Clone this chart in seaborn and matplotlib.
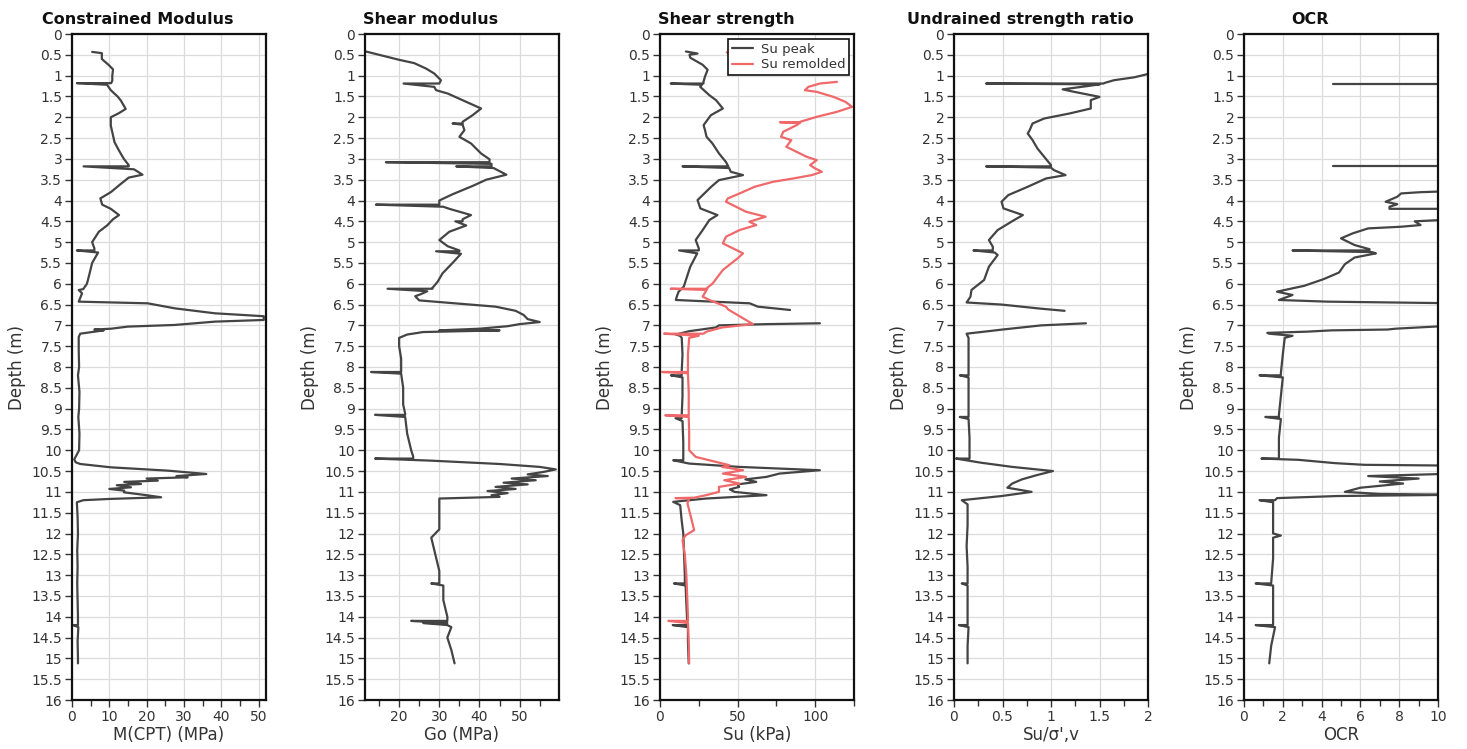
import numpy as np
import pandas as pd
import seaborn as sns
import matplotlib.pyplot as plt
from matplotlib.ticker import MultipleLocator, FixedLocator, FuncFormatter

# --- Data (depth in m) ---
# Constrained modulus M(CPT), MPa
m_depth = [0.43, 0.46, 0.6, 0.75, 0.85, 1.0, 1.12, 1.18, 1.18, 1.22, 1.35, 1.5, 1.6, 1.8, 1.9,
           2.0, 2.2, 2.4, 2.6, 2.8, 3.0, 3.15, 3.18, 3.18, 3.25, 3.38, 3.45, 3.6, 3.8, 3.95,
           4.1, 4.2, 4.35, 4.45, 4.6, 4.75, 5.0, 5.15, 5.2, 5.2, 5.25, 5.5, 5.83, 6.0, 6.13,
           6.15, 6.23, 6.43, 6.47, 6.59, 6.71, 6.78, 6.87, 6.91, 6.99, 7.03, 7.08, 7.1, 7.12,
           7.2, 7.28, 7.6, 8.0, 8.2, 8.6, 9.0, 9.2, 9.6, 10.0, 10.22, 10.29, 10.33, 10.41,
           10.49, 10.57, 10.62, 10.65, 10.68, 10.73, 10.76, 10.81, 10.84, 10.89, 10.93, 10.97,
           11.01, 11.08, 11.13, 11.17, 11.2, 11.25, 11.6, 12.0, 12.4, 12.8, 13.2, 13.6, 14.0,
           14.2, 14.2, 14.25, 14.6, 15.0, 15.12]
m_val = [5.4, 8.0, 8.0, 9.9, 11.0, 10.8, 10.8, 10.5, 1.3, 9.4, 10.4, 12.2, 13.1, 14.4, 12.6,
         10.4, 10.4, 10.9, 11.4, 12.6, 13.9, 15.2, 15.2, 3.1, 16.6, 18.9, 15.2, 13.1, 10.4, 7.6,
         8.1, 10.4, 12.6, 11.0, 9.4, 7.2, 5.4, 6.0, 6.0, 1.3, 7.0, 5.4, 4.5, 4.0, 3.0,
         1.8, 2.7, 1.8, 20.3, 27.5, 38.3, 51.4, 51.4, 38.3, 27.5, 14.9, 10.5, 6.0, 8.5,
         2.2, 1.8, 1.8, 1.9, 1.6, 2.0, 1.9, 1.7, 2.0, 1.9, 0.6, 1.0, 2.2, 10.4,
         25.7, 36.0, 28.0, 31.0, 20.0, 23.0, 14.0, 18.5, 12.0, 15.8, 10.0, 14.0,
         13.9, 20.0, 23.9, 10.0, 3.0, 1.3, 1.5, 1.6, 1.4, 1.5, 1.4, 1.5, 1.6,
         1.6, 0.3, 1.7, 1.5, 1.6, 1.6]

# Shear modulus Go, MPa
g_depth = [0.42, 0.5, 0.62, 0.7, 0.83, 0.95, 1.11, 1.19, 1.19, 1.27, 1.35, 1.43, 1.59, 1.79,
           1.95, 2.11, 2.15, 2.15, 2.18, 2.31, 2.47, 2.63, 2.87, 3.01, 3.08, 3.08, 3.12, 3.18,
           3.18, 3.22, 3.38, 3.5, 3.65, 3.85, 4.0, 4.1, 4.1, 4.15, 4.2, 4.35, 4.45, 4.5, 4.5,
           4.6, 4.75, 4.95, 5.1, 5.2, 5.22, 5.22, 5.28, 5.5, 5.75, 5.95, 6.1, 6.12, 6.12, 6.18,
           6.25, 6.3, 6.4, 6.48, 6.55, 6.65, 6.75, 6.85, 6.92, 6.97, 7.02, 7.08, 7.12, 7.12,
           7.16, 7.22, 7.3, 7.5, 7.8, 8.05, 8.12, 8.12, 8.16, 8.5, 8.9, 9.12, 9.15, 9.15, 9.2,
           9.6, 10.0, 10.15, 10.2, 10.2, 10.25, 10.33, 10.4, 10.46, 10.52, 10.58, 10.62, 10.68,
           10.72, 10.78, 10.82, 10.88, 10.93, 10.98, 11.03, 11.08, 11.12, 11.16, 11.22, 11.5,
           11.9, 12.1, 12.5, 12.9, 13.2, 13.2, 13.25, 13.6, 14.0, 14.1, 14.1, 14.15, 14.15,
           14.2, 14.25, 14.5, 14.8, 15.12]
g_val = [11.7, 15.0, 20.0, 23.75, 26.7, 28.75, 30.4, 30.0, 21.1, 28.75, 29.2, 32.1, 35.8, 40.4,
         38.3, 35.8, 35.8, 33.3, 35.8, 36.25, 35.0, 37.9, 40.4, 42.5, 42.5, 16.7, 43.0, 43.0,
         34.2, 43.5, 46.7, 41.7, 38.3, 33.3, 30.0, 30.0, 14.2, 31.0, 32.5, 37.9, 35.8, 35.8, 34.0,
         36.7, 32.5, 30.0, 32.1, 35.0, 35.0, 29.2, 35.4, 33.3, 30.8, 29.6, 28.3, 28.3, 17.1, 27.0,
         25.4, 24.0, 25.0, 35.0, 44.0, 49.0, 51.0, 52.0, 55.0, 50.0, 47.0, 40.0, 30.0, 45.0,
         26.0, 22.0, 20.0, 20.0, 20.5, 20.5, 20.5, 13.0, 20.5, 21.0, 21.0, 21.5, 21.5, 14.0, 21.5,
         22.0, 23.0, 23.5, 23.5, 14.0, 28.0, 45.0, 55.0, 59.0, 56.0, 52.0, 57.0, 48.0,
         54.0, 46.0, 52.0, 44.0, 49.0, 42.0, 47.0, 43.0, 45.0, 30.0, 30.0, 30.0,
         30.0, 28.0, 29.0, 30.0, 30.0, 28.0, 31.0, 31.0, 32.0, 32.0, 23.0, 32.0, 26.0,
         32.0, 33.0, 32.0, 33.0, 33.8]

# Shear strength, Su peak (kPa)
sp_depth = [0.42, 0.47, 0.5, 0.57, 0.74, 0.86, 1.02, 1.15, 1.19, 1.19, 1.22, 1.27, 1.47, 1.59,
            1.79, 1.95, 2.19, 2.31, 2.47, 2.63, 2.87, 3.07, 3.18, 3.18, 3.22, 3.31, 3.39, 3.51,
            3.67, 3.87, 3.99, 4.19, 4.35, 4.47, 4.71, 4.95, 5.15, 5.2, 5.2, 5.27, 5.59, 5.83,
            6.07, 6.19, 6.3, 6.39, 6.47, 6.55, 6.63, None, 6.95, 6.97, 7.0, 7.05, 7.14, 7.22,
            7.25, 7.3, 7.7, 8.1, 8.2, 8.2, 8.25, 8.7, 9.15, 9.23, 9.23, 9.3, 9.8, 10.15, 10.24,
            10.24, 10.32, 10.4, 10.48, 10.56, 10.64, 10.7, 10.76, 10.82, 10.88, 10.94, 11.0,
            11.08, 11.16, 11.24, 11.32, 11.7, 12.0, 12.5, 13.0, 13.2, 13.2, 13.25, 13.7, 14.1,
            14.2, 14.2, 14.25, 14.6, 15.12]
sp_val = [16.7, 24.2, 19.0, 19.5, 27.5, 30.7, 29.0, 28.0, 28.0, 6.9, 27.0, 25.9, 31.8, 36.1,
          40.5, 32.8, 28.1, 29.0, 30.0, 33.8, 38.0, 42.4, 44.0, 14.5, 44.5, 45.6, 53.5, 38.0,
          33.0, 27.5, 24.2, 26.0, 37.0, 31.8, 27.5, 23.0, 25.0, 25.0, 12.3, 24.0, 19.5, 17.4,
          15.3, 12.0, 10.9, 10.2, 57.8, 63.0, 83.8, None, 103.0, 68.6, 38.0, 36.0, 18.8, 10.2,
          12.9, 14.0, 14.5, 14.0, 14.0, 7.0, 14.5, 14.5, 14.0, 14.0, 10.0, 14.5, 15.0, 15.0, 15.0,
          8.5, 18.8, 51.0, 103.0, 77.0, 68.6, 55.0, 62.0, 50.0, 51.0, 45.0, 48.0,
          68.6, 29.6, 8.5, 13.0, 14.0, 15.0, 15.5, 16.0, 16.0, 9.0, 16.5, 17.0, 17.5,
          17.5, 8.2, 18.0, 18.0, 18.5]

# Su remolded (kPa)
sr_depth = [0.44, 0.48, None, 1.15, 1.19, 1.27, 1.35, 1.39, 1.51, 1.63, 1.75, 1.87, 1.99, 2.11,
            2.12, 2.12, 2.14, 2.19, 2.35, 2.47, 2.55, 2.71, 2.83, 2.95, 3.03, 3.15, 3.23, 3.31,
            3.39, 3.47, 3.55, 3.67, 3.83, 3.95, 4.03, 4.15, 4.27, 4.39, 4.51, 4.59, 4.71, 4.87,
            5.03, 5.15, 5.27, 5.39, 5.51, 5.67, 5.83, 5.99, 6.09, 6.12, 6.12, 6.15, 6.31, 6.39,
            6.55, 6.62, 6.97, 7.05, 7.15, 7.2, 7.2, 7.25, 7.3, 7.7, 8.1, 8.12, 8.12, 8.15, 8.6,
            9.1, 9.16, 9.16, 9.2, 9.6, 10.0, 10.16, 10.28, 10.36, 10.4, 10.48, 10.56, 10.64,
            10.72, 10.8, 10.88, 11.0, 11.08, 11.14, 11.15, 11.16, 11.28, 11.6, 11.92, 12.04,
            12.16, 12.5, 13.0, 13.5, 14.0, 14.1, 14.1, 14.15, 14.6, 15.12]
sr_val = [43.0, 45.0, None, 114.0, 103.0, 95.6, 93.4, 101.0, 111.7, 119.5, 123.8, 114.0, 101.0,
          90.3, 90.3, 77.3, 90.0, 88.0, 79.4, 78.0, 84.6, 81.4, 88.0, 94.5, 101.0, 96.7, 100.0,
          104.3, 97.8, 86.0, 72.9, 61.0, 51.3, 43.7, 42.5, 49.0, 55.4, 68.0, 57.6, 62.0, 51.3,
          42.5, 40.5, 47.0, 53.5, 50.0, 45.9, 40.5, 37.2, 34.0, 30.7, 30.5, 6.9, 30.0, 27.5,
          31.8, 42.5, 44.0, 59.9, 40.0, 30.0, 28.0, 2.6, 25.0, 18.8, 18.0, 18.0, 18.0, 1.3,
          18.0, 18.5, 18.5, 18.5, 3.4, 18.5, 18.8, 18.8, 23.0, 36.1, 44.8, 40.0, 53.5, 40.5,
          55.4, 41.4, 51.3, 38.0, 38.0, 29.6, 22.0, 10.0, 18.8, 17.7, 19.9, 22.0, 16.6,
          14.5, 16.0, 17.0, 17.5, 18.0, 18.0, 5.4, 18.0, 18.5, 18.8]

# Undrained strength ratio Su/sigma'v
r_depth = [0.96, 1.04, 1.11, 1.17, 1.19, 1.19, 1.21, 1.25, 1.33, 1.39, 1.51, 1.59, 1.79, 1.91,
           2.03, 2.15, 2.31, 2.39, 2.55, 2.75, 2.95, 3.15, 3.18, 3.18, 3.21, 3.27, 3.39, 3.47,
           3.67, 3.87, 4.03, 4.19, 4.35, 4.47, 4.71, 4.95, 5.11, 5.2, 5.2, 5.25, 5.31, 5.59,
           5.91, 6.15, 6.31, 6.45, 6.5, 6.6, 6.65, None, 6.95, 7.0, 7.1, 7.2, 7.3, 7.8, 8.15,
           8.2, 8.2, 8.25, 8.7, 9.15, 9.2, 9.2, 9.25, 9.7, 10.15, 10.2, 10.2, 10.3, 10.4, 10.5,
           10.6, 10.7, 10.8, 10.9, 11.0, 11.1, 11.2, 11.3, 11.8, 12.3, 12.8, 13.2, 13.2, 13.25,
           13.7, 14.15, 14.2, 14.2, 14.25, 14.7, 15.12]
r_val = [2.0, 1.86, 1.65, 1.56, 1.54, 0.33, 1.5, 1.38, 1.12, 1.24, 1.5, 1.41, 1.41, 1.19,
         0.93, 0.81, 0.78, 0.76, 0.81, 0.86, 0.93, 1.0, 1.0, 0.33, 1.0, 1.03, 1.15, 0.95,
         0.76, 0.56, 0.49, 0.51, 0.71, 0.62, 0.45, 0.36, 0.4, 0.4, 0.2, 0.42, 0.45, 0.36,
         0.31, 0.18, 0.17, 0.13, 0.49, 0.9, 1.14, None, 1.36, 0.9, 0.5, 0.13, 0.15, 0.15, 0.15,
         0.15, 0.06, 0.15, 0.15, 0.15, 0.15, 0.06, 0.15, 0.16, 0.16, 0.16, 0.02, 0.28, 0.6, 1.02,
         0.85, 0.7, 0.6, 0.55, 0.8, 0.49, 0.08, 0.14, 0.14, 0.13, 0.14, 0.14, 0.08, 0.14,
         0.14, 0.14, 0.14, 0.05, 0.15, 0.14, 0.14]

# Over-consolidation ratio
o_depth = [1.19, 1.19, None, 3.18, 3.18, None, 3.77, 3.8, 3.83, 3.91, 4.03, 4.09, 4.15, 4.2,
           4.2, None, 4.45, 4.5, 4.59, 4.63, 4.67, 4.79, 4.91, 5.07, 5.17, 5.2, 5.2, 5.24, 5.27,
           5.37, 5.53, 5.73, 5.89, 6.05, 6.19, 6.27, 6.39, 6.43, 6.47, None, 7.0, 7.08, 7.1,
           7.12, 7.15, 7.18, 7.2, 7.2, 7.25, 7.3, 7.7, 8.15, 8.2, 8.2, 8.25, 8.7, 9.15, 9.2,
           9.2, 9.25, 9.7, 10.15, 10.2, 10.2, 10.23, 10.31, 10.35, 10.37, None, 10.56, 10.62,
           10.68, 10.75, 10.8, 10.9, 11.0, 11.05, 11.07, 11.1, 11.15, 11.2, 11.2, 11.25, 11.6,
           12.0, 12.05, 12.1, 12.6, 13.2, 13.2, 13.25, 13.7, 14.15, 14.2, 14.2, 14.25, 14.7,
           15.12]
o_val = [4.57, 11.0, None, 4.57, 11.0, None, 11.0, 9.1, 8.1, 7.9, 7.3, 7.9, 7.5, 7.5,
         11.0, None, 11.0, 8.8, 9.1, 8.1, 6.4, 5.6, 5.0, 5.7, 6.47, 6.47, 2.5, 6.6, 6.8,
         5.7, 5.2, 4.9, 4.1, 3.1, 1.7, 2.5, 1.8, 4.3, 11.0, None, 11.0, 7.8, 7.4,
         4.5, 3.3, 1.2, 1.3, 1.3, 2.5, 2.1, 2.0, 1.9, 1.9, 0.8, 2.0, 1.9, 1.8, 1.8,
         1.1, 1.9, 1.8, 1.8, 1.8, 0.9, 2.8, 4.7, 6.2, 11.0, None, 11.0, 6.4,
         9.0, 7.0, 8.2, 6.0, 5.2, 7.0, 11.0, 4.8, 1.7, 1.6, 0.8, 1.5, 1.5,
         1.5, 1.9, 1.5, 1.5, 1.4, 0.6, 1.5, 1.5, 1.5, 1.5, 0.6, 1.6, 1.4,
         1.3]

DARK = "#444444"
RED = "#f0686a"


def segments(depth, val):
    """Split a profile at None markers into separate pieces."""
    segs, cur = [], []
    for d, v in zip(depth, val):
        if d is None:
            if cur:
                segs.append(cur)
            cur = []
        else:
            cur.append((d, v))
    if cur:
        segs.append(cur)
    return segs


def draw_profile(ax, depth, val, color, label=None):
    for i, seg in enumerate(segments(depth, val)):
        df = pd.DataFrame(seg, columns=["depth", "value"])
        sns.lineplot(data=df, x="value", y="depth", sort=False, estimator=None,
                     color=color, lw=1.6, ax=ax, label=label if i == 0 else None)


sns.set_theme(style="white")
plt.rcParams['font.family'] = ['DejaVu Sans']

fig = plt.figure(figsize=(14.67, 7.49), dpi=100)

lefts = [72, 365, 660, 954, 1244]
panel_w = 194
top_px, bot_px = 34, 700
W, H = 1467, 749

panels = [
    ("Constrained Modulus", "M(CPT) (MPa)", (0, 52), 10, 5),
    ("Shear modulus", "Go (MPa)", (11.5, 59.8), 10, 5),
    ("Shear strength", "Su (kPa)", (0, 125), 50, 25),
    ("Undrained strength ratio", "Su/σ',v", (0, 2), 0.5, 0.25),
    ("OCR", "OCR", (0, 10), 2, 1),
]

axes = []
for (title, xlabel, xlim, major, minor), left in zip(panels, lefts):
    ax = fig.add_axes([left / W, 1 - bot_px / H, panel_w / W, (bot_px - top_px) / H])
    axes.append(ax)
    ax.set_xlim(*xlim)
    ax.set_ylim(16, 0)
    ax.xaxis.set_major_locator(MultipleLocator(major))
    ax.xaxis.set_minor_locator(MultipleLocator(minor))
    ax.xaxis.set_major_formatter(FuncFormatter(lambda x, pos: f"{x:g}"))
    yt = np.arange(0, 16.01, 0.5)
    ax.yaxis.set_major_locator(FixedLocator(yt))
    ax.set_yticklabels([f"{t:g}" for t in yt])
    ax.grid(True, which="major", color="#dcdcdc", lw=0.9)
    ax.set_axisbelow(True)
    ax.tick_params(axis="both", which="major", direction="out", length=5, width=1,
                   color="#333333", labelsize=10, labelcolor="#333333", pad=2,
                   bottom=True, left=True)
    ax.tick_params(axis="x", which="minor", direction="out", length=4, width=1,
                   color="#333333", bottom=True)
    for side in ["left", "right", "top", "bottom"]:
        ax.spines[side].set_visible(True)
        ax.spines[side].set_color("#111111")
        ax.spines[side].set_linewidth(1.6)
    ax.set_xlabel(xlabel, fontsize=12, color="#333333", labelpad=2)
    ax.set_ylabel("Depth (m)", fontsize=12, color="#333333", labelpad=4)
    ax.set_title(title, fontsize=11.5, fontweight="bold", x=0.34, pad=7, color="#111111")

draw_profile(axes[0], m_depth, m_val, DARK)
draw_profile(axes[1], g_depth, g_val, DARK)
draw_profile(axes[2], sp_depth, sp_val, DARK, label="Su peak")
draw_profile(axes[2], sr_depth, sr_val, RED, label="Su remolded")
draw_profile(axes[3], r_depth, r_val, DARK)
draw_profile(axes[4], o_depth, o_val, DARK)

axes[1].set_xticks([20, 30, 40, 50])
axes[1].xaxis.set_minor_locator(FixedLocator([15, 25, 35, 45, 55]))

leg = axes[2].legend(loc="upper right", borderaxespad=0.35, fontsize=9.5,
                     frameon=True, fancybox=False, handlelength=1.6, borderpad=0.3,
                     labelspacing=0.2, handletextpad=0.6)
leg.get_frame().set_edgecolor("#111111")
leg.get_frame().set_linewidth(1.2)
leg.get_frame().set_alpha(1.0)
for t in leg.get_texts():
    t.set_color("#333333")

fig.savefig("out.png", dpi=100)
